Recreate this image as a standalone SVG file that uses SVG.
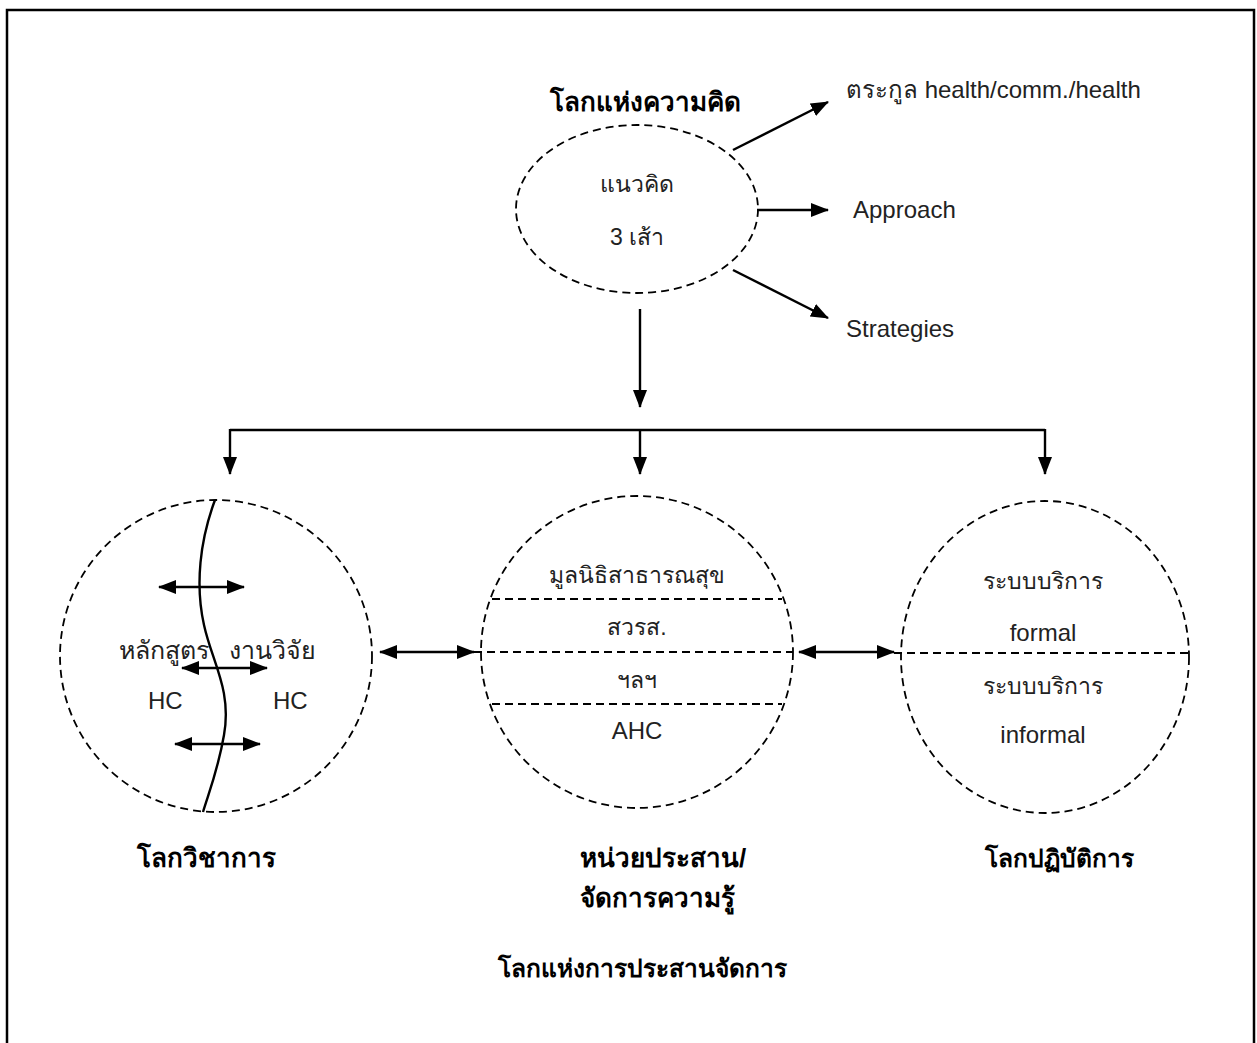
<svg xmlns="http://www.w3.org/2000/svg" width="1257" height="1043" viewBox="0 0 1257 1043">
  <style>
    .frame { fill: #fff; stroke: #000; stroke-width: 2.5; }
    .dash { fill: none; stroke: #000; stroke-width: 1.8; stroke-dasharray: 8 5; }
    .wire { fill: none; stroke: #000; stroke-width: 2.4; }
    .arrow { fill: none; stroke: #000; stroke-width: 2.4; marker-end: url(#head); }
    .both { fill: none; stroke: #000; stroke-width: 2.4; marker-start: url(#head); marker-end: url(#head); }
    .lbl { font-family: "Liberation Sans", "Noto Sans", sans-serif; font-size: 23px; fill: #222; text-anchor: middle; }
    .lbl-l { font-family: "Liberation Sans", "Noto Sans", sans-serif; font-size: 23px; fill: #222; }
    .en { font-size: 24px; }
    .big { font-size: 25px; }
    .ttl { font-family: "Liberation Sans", "Noto Sans", sans-serif; font-size: 26px; font-weight: bold; fill: #000; }
    .ttl-s { font-size: 24.5px; }
  </style>
  <defs>
    <marker id="head" viewBox="0 0 18 14" refX="17" refY="7" markerWidth="18" markerHeight="14" markerUnits="userSpaceOnUse" orient="auto-start-reverse">
      <path d="M0,0 L18,7 L0,14 z" fill="#000"/>
    </marker>
  </defs>

  <rect class="frame" x="7" y="10" width="1247" height="1045"/>

  <!-- world of ideas -->
  <g id="title-ideas">
    <text class="ttl" x="645" y="111" text-anchor="middle">โลกแห่งความคิด</text>
  </g>
  <g id="concept">
    <ellipse class="dash" cx="637" cy="209" rx="121" ry="84"/>
    <text class="lbl" x="637" y="192">แนวคิด</text>
    <text class="lbl" x="637" y="245">3 เส้า</text>
  </g>
  <g id="lineage">
    <text class="lbl-l en" x="846" y="98">ตระกูล health/comm./health</text>
  </g>
  <g id="approach">
    <text class="lbl-l en" x="853" y="218">Approach</text>
  </g>
  <g id="strategies">
    <text class="lbl-l en" x="846" y="337">Strategies</text>
  </g>

  <!-- academic world -->
  <g id="academic">
    <circle class="dash" cx="216" cy="656" r="156"/>
    <path class="wire" d="M215,500 C200,540 195,585 204,625 C212,662 232,690 224,735 C218,770 209,792 203,812"/>
    <text class="lbl-l big" x="119" y="659">หลักสูตร</text>
    <text class="lbl-l big" x="229" y="659">งานวิจัย</text>
    <text class="lbl-l en" x="148" y="709">HC</text>
    <text class="lbl-l en" x="273" y="709">HC</text>
    <text class="ttl" x="137" y="867">โลกวิชาการ</text>
  </g>

  <!-- coordination units -->
  <g id="coordination">
    <circle class="dash" cx="637" cy="652" r="156"/>
    <line class="dash" x1="492" y1="599" x2="782" y2="599"/>
    <line class="dash" x1="474" y1="652" x2="793" y2="652"/>
    <line class="dash" x1="492" y1="704" x2="782" y2="704"/>
    <text class="lbl" x="637" y="583">มูลนิธิสาธารณสุข</text>
    <text class="lbl" x="637" y="635">สวรส.</text>
    <text class="lbl" x="637" y="688">ฯลฯ</text>
    <text class="lbl en" x="637" y="739">AHC</text>
    <text class="ttl" x="580" y="867">หน่วยประสาน/</text>
    <text class="ttl" x="580" y="907">จัดการความรู้</text>
    <text class="ttl ttl-s" x="642" y="977" text-anchor="middle">โลกแห่งการประสานจัดการ</text>
  </g>

  <!-- practice world -->
  <g id="practice">
    <ellipse class="dash" cx="1045" cy="657" rx="144" ry="156"/>
    <line class="dash" x1="894" y1="653" x2="1189" y2="653"/>
    <text class="lbl" x="1043" y="589">ระบบบริการ</text>
    <text class="lbl en" x="1043" y="641">formal</text>
    <text class="lbl" x="1043" y="694">ระบบบริการ</text>
    <text class="lbl en" x="1043" y="743">informal</text>
    <text class="ttl ttl-s" x="985" y="867">โลกปฏิบัติการ</text>
  </g>

  <!-- connectors -->
  <g id="connectors">
    <line class="arrow" x1="733" y1="150" x2="828" y2="102"/>
    <line class="arrow" x1="757" y1="210" x2="828" y2="210"/>
    <line class="arrow" x1="733" y1="270" x2="828" y2="318"/>
    <line class="arrow" x1="640" y1="309" x2="640" y2="407"/>
    <polyline class="wire" points="230,430 1045,430"/>
    <line class="arrow" x1="230" y1="429" x2="230" y2="474"/>
    <line class="arrow" x1="640" y1="429" x2="640" y2="474"/>
    <line class="arrow" x1="1045" y1="429" x2="1045" y2="474"/>
    <line class="both" x1="159" y1="587" x2="244" y2="587"/>
    <line class="both" x1="182" y1="668" x2="267" y2="668"/>
    <line class="both" x1="175" y1="744" x2="260" y2="744"/>
    <line class="both" x1="380" y1="652" x2="474" y2="652"/>
    <line class="both" x1="799" y1="652" x2="894" y2="652"/>
  </g>
</svg>
